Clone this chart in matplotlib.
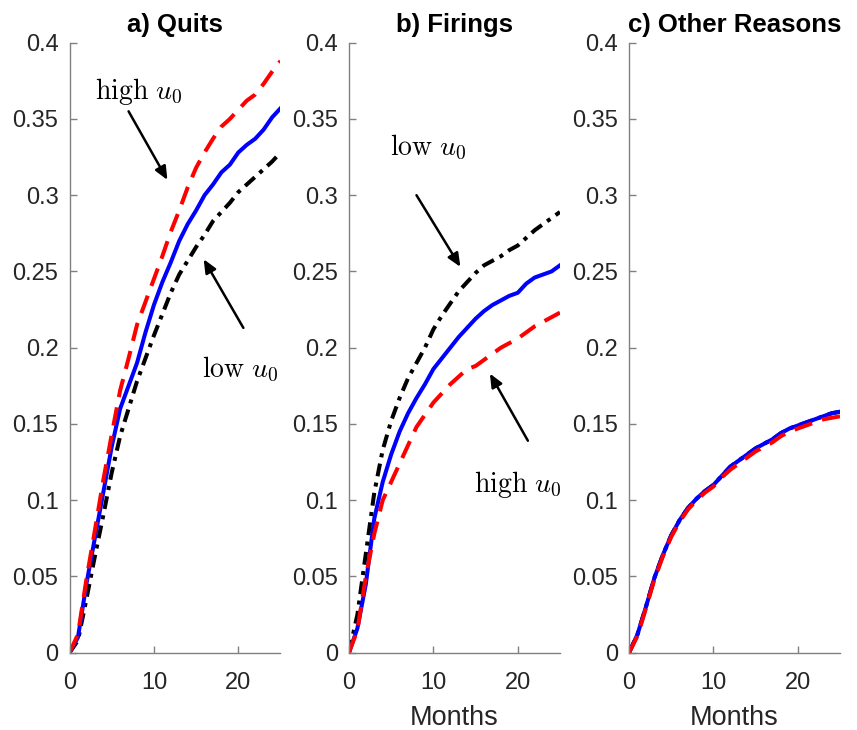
import matplotlib
matplotlib.use('Agg')
import matplotlib.pyplot as plt
import numpy as np

plt.rcParams['font.family'] = ['Liberation Sans', 'DejaVu Sans']
plt.rcParams['mathtext.fontset'] = 'cm'

months = np.arange(0, 26)

# cumulative separation shares by reason, for baseline / high u0 / low u0
quits_base = [0, 0.010, 0.045, 0.075, 0.105, 0.135, 0.160, 0.175, 0.190, 0.210, 0.228, 0.243, 0.256,
              0.270, 0.281, 0.290, 0.300, 0.307, 0.315, 0.320, 0.328, 0.333, 0.337, 0.343, 0.351, 0.357]
quits_high = [0, 0.012, 0.048, 0.080, 0.113, 0.143, 0.172, 0.193, 0.215, 0.230, 0.245, 0.260, 0.276,
              0.290, 0.305, 0.318, 0.328, 0.337, 0.345, 0.350, 0.356, 0.362, 0.366, 0.373, 0.381, 0.388]
quits_low = [0, 0.008, 0.035, 0.063, 0.090, 0.118, 0.142, 0.160, 0.178, 0.193, 0.208, 0.222, 0.236,
             0.248, 0.257, 0.266, 0.274, 0.283, 0.289, 0.295, 0.302, 0.307, 0.312, 0.317, 0.322, 0.328]

fire_base = [0, 0.016, 0.045, 0.088, 0.112, 0.130, 0.145, 0.157, 0.167, 0.176, 0.186, 0.193, 0.200,
             0.207, 0.213, 0.219, 0.224, 0.228, 0.231, 0.234, 0.236, 0.242, 0.246, 0.248, 0.250, 0.254]
fire_high = [0, 0.015, 0.050, 0.078, 0.100, 0.112, 0.124, 0.136, 0.148, 0.156, 0.164, 0.170, 0.176,
             0.181, 0.186, 0.188, 0.192, 0.196, 0.200, 0.203, 0.206, 0.210, 0.214, 0.217, 0.220, 0.223]
fire_low = [0, 0.025, 0.065, 0.105, 0.133, 0.152, 0.167, 0.180, 0.190, 0.200, 0.212, 0.221, 0.229,
            0.237, 0.243, 0.249, 0.254, 0.257, 0.260, 0.264, 0.267, 0.272, 0.277, 0.281, 0.285, 0.289]

other_base = [0, 0.012, 0.030, 0.049, 0.064, 0.077, 0.087, 0.095, 0.101, 0.106, 0.110, 0.116, 0.122,
              0.126, 0.130, 0.134, 0.137, 0.140, 0.144, 0.147, 0.149, 0.151, 0.153, 0.155, 0.157, 0.158]
other_high = [0, 0.011, 0.029, 0.048, 0.063, 0.076, 0.086, 0.094, 0.100, 0.105, 0.109, 0.115, 0.120,
              0.124, 0.128, 0.132, 0.135, 0.138, 0.142, 0.145, 0.147, 0.149, 0.151, 0.153, 0.154, 0.155]
other_low = [0, 0.012, 0.030, 0.049, 0.064, 0.077, 0.087, 0.095, 0.101, 0.106, 0.110, 0.116, 0.122,
             0.126, 0.130, 0.134, 0.137, 0.140, 0.144, 0.147, 0.149, 0.151, 0.153, 0.155, 0.157, 0.158]

titles = ['a) Quits', 'b) Firings', 'c) Other Reasons']
panels = [(quits_base, quits_high, quits_low),
          (fire_base, fire_high, fire_low),
          (other_base, other_high, other_low)]
yticks = [0, 0.05, 0.1, 0.15, 0.2, 0.25, 0.3, 0.35, 0.4]
yticklabels = ['0', '0.05', '0.1', '0.15', '0.2', '0.25', '0.3', '0.35', '0.4']

# (text, text xy, arrow tail, arrow head) per panel
notes = {
    0: [(r'$\mathrm{high}\ u_0$', (8.2, 0.368), (7.0, 0.355), (11.6, 0.310)),
        (r'$\mathrm{low}\ u_0$', (20.2, 0.186), (20.6, 0.213), (15.9, 0.258))],
    1: [(r'$\mathrm{low}\ u_0$', (9.4, 0.331), (8.0, 0.300), (13.2, 0.253)),
        (r'$\mathrm{high}\ u_0$', (20.0, 0.110), (21.2, 0.139), (16.7, 0.183))],
}

axis_grey = '#808080'
fig = plt.figure(figsize=(8.57, 7.30), dpi=100)
lefts = [0.0811, 0.4072, 0.7340]

for i, (base, high, low) in enumerate(panels):
    ax = fig.add_axes([lefts[i], 0.1059, 0.2462, 0.8356])
    ax.plot(months, low, color='black', lw=2.9, linestyle=(0, (3.2, 1.6, 1.0, 1.6)))
    ax.plot(months, base, color='blue', lw=2.9, linestyle='-')
    ax.plot(months, high, color='red', lw=2.9, linestyle=(0, (4.6, 2.6)))

    ax.set_xlim(0, 25)
    ax.set_ylim(0, 0.4)
    ax.set_xticks([0, 10, 20])
    ax.set_yticks(yticks)
    ax.set_yticklabels(yticklabels)
    for side in ['top', 'right']:
        ax.spines[side].set_visible(False)
    for side in ['left', 'bottom']:
        ax.spines[side].set_color(axis_grey)
        ax.spines[side].set_linewidth(1.0)
    ax.tick_params(direction='in', length=5, width=1.0, color=axis_grey,
                   labelcolor='#262626', labelsize=17)
    ax.tick_params(axis='y', pad=8)
    ax.tick_params(axis='x', pad=14)
    ax.set_title(titles[i], fontsize=18.5, fontweight='bold', pad=8)
    if i > 0:
        ax.set_xlabel('Months', fontsize=19.5, color='#262626', labelpad=8)

    for text, txy, tail, head in notes.get(i, []):
        ax.text(txy[0], txy[1], text, fontsize=20, ha='center', va='center')
        ax.annotate('', xy=head, xytext=tail,
                    arrowprops=dict(arrowstyle='-|>,head_length=0.8,head_width=0.35',
                                    color='black', lw=1.8, shrinkA=0, shrinkB=0))

fig.savefig('out.png', dpi=100)
